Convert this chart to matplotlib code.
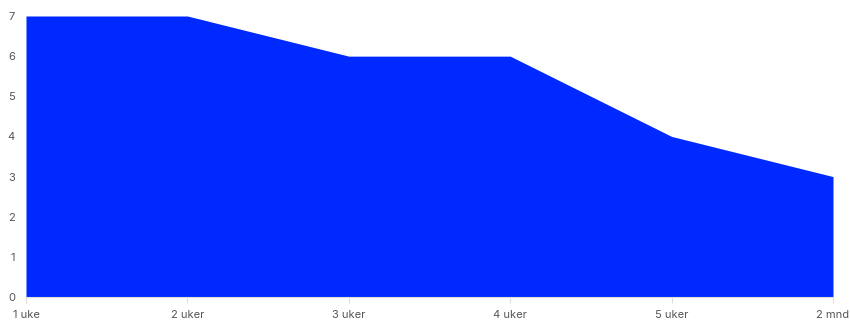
import matplotlib
matplotlib.use("Agg")
import matplotlib.pyplot as plt

# data
categories = ["1 uke", "2 uker", "3 uker", "4 uker", "5 uker", "2 mnd"]
values = [7, 7, 6, 6, 4, 3]
y_ticks = [0, 1, 2, 3, 4, 5, 6, 7]

plt.rcParams["font.family"] = ["Inter", "DejaVu Sans"]

fig = plt.figure(figsize=(8.5, 3.22), dpi=100)
ax = fig.add_axes([26 / 850, 25 / 322, (833 - 26) / 850, (297 - 16) / 322])

x = list(range(len(categories)))
ax.fill_between(x, 0, values, color="#0029ff", linewidth=0)

ax.set_xlim(0, len(categories) - 1)
ax.set_ylim(0, 7)
ax.set_xticks(x)
ax.set_xticklabels(categories)
ax.set_yticks(y_ticks)

for side in ["top", "right", "left"]:
    ax.spines[side].set_visible(False)
ax.spines["bottom"].set_color("#dddddd")
ax.spines["bottom"].set_linewidth(0.8)

ax.tick_params(axis="x", length=4, width=0.8, color="#dddddd", labelsize=8,
               labelcolor="#555555", pad=5)
ax.tick_params(axis="y", length=0, labelsize=8, labelcolor="#555555", pad=8)

fig.savefig("out.png", dpi=100)
